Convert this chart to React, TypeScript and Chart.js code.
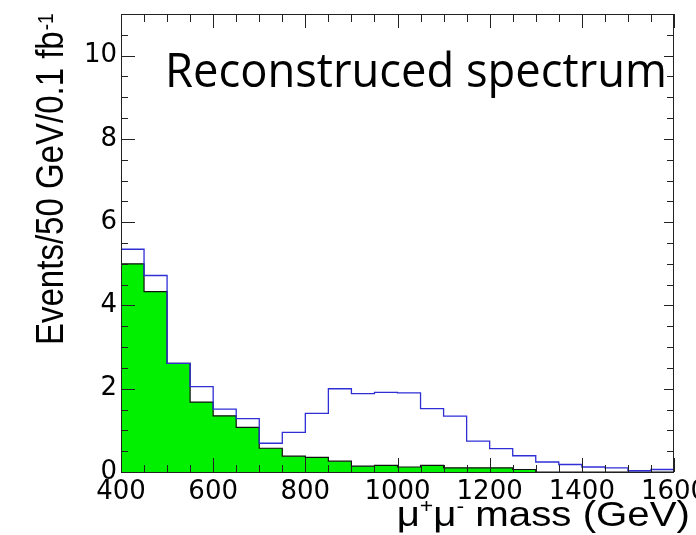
import React, { useEffect, useRef } from "react";
import { Chart, registerables } from "chart.js";

Chart.register(...registerables);

// Bin low edges (GeV), 50 GeV bins
const binEdges = [400, 450, 500, 550, 600, 650, 700, 750, 800, 850, 900, 950, 1000, 1050, 1100, 1150, 1200, 1250, 1300, 1350, 1400, 1450, 1500, 1550];
const upperEdge = 1600;
// Background (green filled)
const background = [5.0, 4.33, 2.61, 1.68, 1.35, 1.07, 0.57, 0.38, 0.35, 0.26, 0.14, 0.16, 0.12, 0.16, 0.1, 0.1, 0.1, 0.06, 0, 0, 0, 0, 0, 0];
// Signal + background (blue outline)
const total = [5.35, 4.72, 2.61, 2.05, 1.51, 1.28, 0.69, 0.95, 1.41, 2.0, 1.88, 1.91, 1.9, 1.52, 1.34, 0.74, 0.56, 0.39, 0.24, 0.18, 0.12, 0.1, 0.03, 0.06];

const xTickLabels = [400, 600, 800, 1000, 1200, 1400, 1600];
const yTickLabels = [0, 2, 4, 6, 8, 10];

const titleText = "Reconstruced spectrum";
const yTitle = "Events/50 GeV/0.1 fb";
const yTitleSup = "-1";

const toSteps = (vals: number[]) => [
  ...binEdges.map((x, i) => ({ x, y: vals[i] })),
  { x: upperEdge, y: vals[vals.length - 1] },
];

const STRETCH = 1.15;

const framePlugin = {
  id: "frameTicks",
  afterDatasetsDraw(chart: any) {
    const { ctx, chartArea: a, scales } = chart;
    const xs = scales.x;
    const ys = scales.y;
    ctx.save();
    ctx.strokeStyle = "#222";
    ctx.lineWidth = 1;
    ctx.beginPath();
    for (let v = 400; v <= 1600; v += 50) {
      const px = Math.round(xs.getPixelForValue(v)) + 0.5;
      const major = v % 200 === 0;
      ctx.moveTo(px, a.bottom);
      ctx.lineTo(px, a.bottom - (major ? 14 : 7));
      ctx.moveTo(px, a.top);
      ctx.lineTo(px, a.top + (major ? 14 : 8));
    }
    for (let v = 0; v <= 11; v += 0.5) {
      const py = Math.round(ys.getPixelForValue(v)) + 0.5;
      const major = v % 2 === 0;
      ctx.moveTo(a.left, py);
      ctx.lineTo(a.left + (major ? 14 : 7), py);
      ctx.moveTo(a.right, py);
      ctx.lineTo(a.right - (major ? 10 : 7), py);
    }
    ctx.stroke();
    ctx.strokeRect(a.left + 0.5, a.top + 0.5, a.right - a.left - 1, a.bottom - a.top);
    ctx.restore();
  },
  afterDraw(chart: any) {
    const { ctx } = chart;
    ctx.save();
    ctx.fillStyle = "#000";
    ctx.textBaseline = "alphabetic";
    ctx.textAlign = "left";
    // title, fitted between x=165 and x=667
    ctx.font = '48px "Open Sans"';
    const tw = ctx.measureText(titleText).width;
    ctx.save();
    ctx.translate(165, 87);
    ctx.scale(502 / tw, 1);
    ctx.fillText(titleText, 0, 0);
    ctx.restore();
    // y title
    ctx.save();
    ctx.translate(63, 345);
    ctx.rotate(-Math.PI / 2);
    ctx.scale(1, STRETCH);
    ctx.font = '33px "Liberation Sans"';
    ctx.fillText(yTitle, 0, 0);
    const w = ctx.measureText(yTitle).width;
    ctx.font = '19px "Liberation Sans"';
    ctx.fillText(yTitleSup, w + 1, -9);
    ctx.restore();
    // x title: μ+μ- mass (GeV), right aligned
    const big = '35px "Liberation Sans"';
    const small = '20px "Liberation Sans"';
    const parts: [string, string, number][] = [
      ["\u03bc", big, 0],
      ["+", small, -13],
      ["\u03bc", big, 0],
      ["-", small, -13],
      [" mass (GeV)", big, 0],
    ];
    let totalW = 0;
    for (const [t, f] of parts) {
      ctx.font = f;
      totalW += ctx.measureText(t).width;
    }
    ctx.save();
    ctx.translate(690, 526);
    ctx.scale(STRETCH, 1);
    let x = -totalW;
    for (const [t, f, dy] of parts) {
      ctx.font = f;
      ctx.fillText(t, x, dy);
      x += ctx.measureText(t).width;
    }
    ctx.restore();
    ctx.restore();
  },
};

export default function App() {
  const ref = useRef<HTMLCanvasElement>(null);
  useEffect(() => {
    if (!ref.current) return;
    const chart = new Chart(ref.current, {
      type: "line",
      data: {
        datasets: [
          {
            label: "signal+background",
            data: toSteps(total),
            stepped: true,
            borderColor: "#2f2fd6",
            borderWidth: 1.3,
            pointRadius: 0,
            fill: false,
            order: 0,
          },
          {
            label: "background",
            data: toSteps(background),
            stepped: true,
            borderColor: "#111",
            borderWidth: 1.2,
            backgroundColor: "#00f000",
            pointRadius: 0,
            fill: "origin",
            order: 1,
          },
        ],
      },
      options: {
        animation: false,
        responsive: true,
        maintainAspectRatio: false,
        layout: { padding: { top: 14, right: 22, left: 0, bottom: 0 } },
        plugins: { legend: { display: false }, tooltip: { enabled: false } },
        scales: {
          x: {
            type: "linear",
            min: 400,
            max: 1600,
            grid: { display: false, drawTicks: false },
            border: { display: false },
            ticks: {
              stepSize: 200,
              color: "#000",
              padding: 5,
              maxRotation: 0,
              autoSkip: false,
              font: { family: '"DejaVu Sans"', size: 26 },
              callback: (v: any) => (xTickLabels.includes(Number(v)) ? String(v) : ""),
            },
            afterFit: (s: any) => {
              s.height = 63;
              s.paddingLeft = 0;
              s.paddingRight = 0;
            },
          },
          y: {
            min: 0,
            max: 11,
            grid: { display: false, drawTicks: false },
            border: { display: false },
            ticks: {
              stepSize: 2,
              includeBounds: false,
              color: "#000",
              padding: 4,
              font: { family: '"DejaVu Sans"', size: 26 },
              callback: (v: any) => (yTickLabels.includes(Number(v)) ? String(v) : ""),
            },
            afterFit: (s: any) => {
              s.width = 121;
              s.paddingTop = 0;
              s.paddingBottom = 0;
            },
          },
        },
      },
      plugins: [framePlugin],
    });
    return () => chart.destroy();
  }, []);
  return (
    <div style={{ position: "fixed", left: 0, top: 0, width: 696, height: 535, background: "#fff" }}>
      <canvas ref={ref} />
    </div>
  );
}
